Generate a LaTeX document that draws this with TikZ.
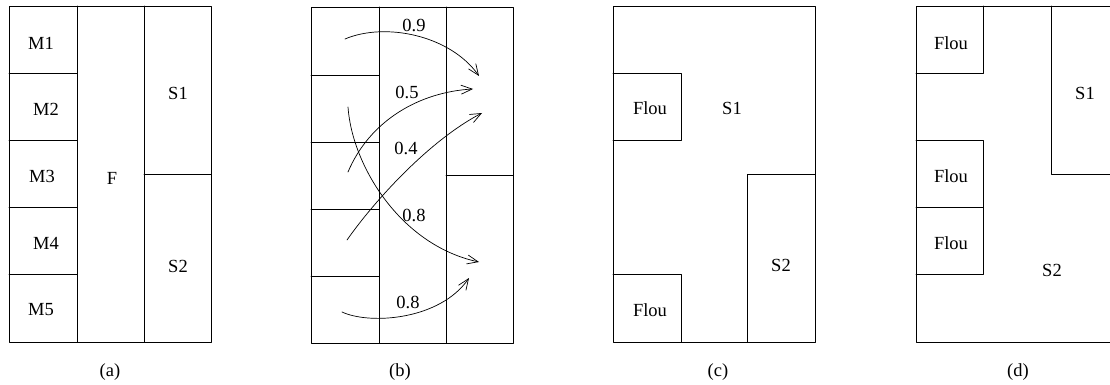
\documentclass[tikz,border=0pt]{standalone}
\usepackage{fontspec}
\setmainfont{Liberation Serif}
\usetikzlibrary{arrows.meta}

\begin{document}
\begin{tikzpicture}[line cap=round,line join=round,>={Straight Barb[length=11pt,width=9pt]},x=1pt,y=-1pt,font=\fontsize{18.5}{22}\selectfont]
\useasboundingbox (0,0) rectangle (1110,385);
\draw [line width=0.9pt] (9,6) rectangle (211,342);
\draw [line width=0.9pt] (77,6)-- (77,342);
\draw [line width=0.9pt] (144,6)-- (144,342);
\draw [line width=0.9pt] (9,73)-- (77,73);
\draw [line width=0.9pt] (9,140)-- (77,140);
\draw [line width=0.9pt] (9,207)-- (77,207);
\draw [line width=0.9pt] (9,274)-- (77,274);
\draw [line width=0.9pt] (144,174)-- (211,174);
\node (m1) at (41,43) {M1};
\node (m2) at (46,109) {M2};
\node (m3) at (42,176) {M3};
\node (m4) at (46,243) {M4};
\node (m5) at (41,310) {M5};
\node (f) at (112,178) {F};
\node (s1a) at (178,93) {S1};
\node (s2a) at (178,266) {S2};
\node (capa) at (110,372) {(a)};
\draw [line width=0.9pt] (311,7) rectangle (513,343);
\draw [line width=0.9pt] (379,7)-- (379,343);
\draw [line width=0.9pt] (446,7)-- (446,343);
\draw [line width=0.9pt] (311,75)-- (379,75);
\draw [line width=0.9pt] (311,142)-- (379,142);
\draw [line width=0.9pt] (311,209)-- (379,209);
\draw [line width=0.9pt] (311,276)-- (379,276);
\draw [line width=0.9pt] (446,175)-- (513,175);
\coordinate (p1) at (345,39);
\coordinate (q1) at (479,76);
\coordinate (p2) at (348,172);
\coordinate (q2) at (473,89);
\coordinate (p3) at (347,240);
\coordinate (q3) at (482,113);
\coordinate (p4) at (348,107);
\coordinate (q4) at (479,262);
\coordinate (p5) at (342,312);
\coordinate (q5) at (469,278);
\draw [line width=0.7pt,->] (p1) .. controls (385,22) and (450,35) .. (q1);
\draw [line width=0.7pt,->] (p2) .. controls (370,120) and (420,92) .. (q2);
\draw [line width=0.7pt,->] (p3) .. controls (375,200) and (430,140) .. (q3);
\draw [line width=0.7pt,->] (p4) .. controls (352,165) and (400,245) .. (q4);
\draw [line width=0.7pt,->] (p5) .. controls (370,325) and (440,320) .. (q5);
\node (w1) at (414,25) {0.9};
\node (w2) at (407,92) {0.5};
\node (w3) at (406,148) {0.4};
\node (w4) at (414,215) {0.8};
\node (w5) at (408,302) {0.8};
\node (capb) at (400,372) {(b)};
\draw [line width=0.9pt] (613,6) rectangle (815,342);
\draw [line width=0.9pt] (613,73)-- (681,73)-- (681,140)-- (613,140);
\draw [line width=0.9pt] (613,274)-- (681,274)-- (681,342);
\draw [line width=0.9pt] (747,342)-- (747,174)-- (815,174);
\node (fl1) at (650,108) {Flou};
\node (fl2) at (650,310) {Flou};
\node (s1c) at (732,108) {S1};
\node (s2c) at (781,265) {S2};
\node (capc) at (718,372) {(c)};
\draw [line width=0.9pt] (916,6) rectangle (1118,342);
\draw [line width=0.9pt] (916,73)-- (983,73)-- (983,6);
\draw [line width=0.9pt] (916,140)-- (983,140)-- (983,274)-- (916,274);
\draw [line width=0.9pt] (916,207)-- (983,207);
\draw [line width=0.9pt] (1051,6)-- (1051,174)-- (1118,174);
\node (fl3) at (951,43) {Flou};
\node (fl4) at (951,176) {Flou};
\node (fl5) at (951,243) {Flou};
\node (s1d) at (1085,93) {S1};
\node (s2d) at (1052,270) {S2};
\node (capd) at (1018,372) {(d)};
\end{tikzpicture}
\end{document}
